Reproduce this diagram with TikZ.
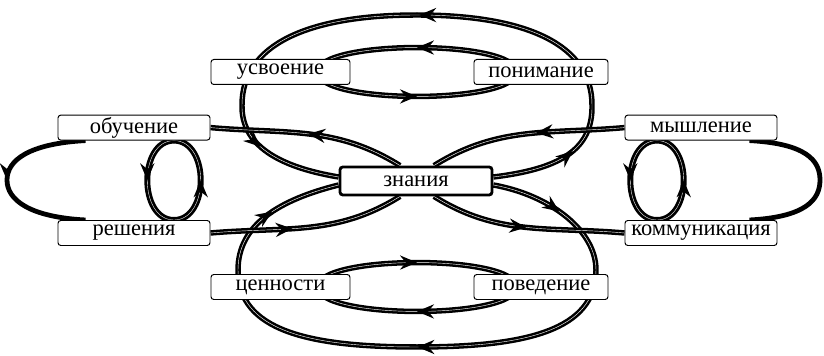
\documentclass[tikz,border=0pt]{standalone}
\usepackage{fontspec}
\setmainfont{Liberation Serif}
\usetikzlibrary{arrows.meta,decorations.markings,backgrounds}

\begin{document}
\begin{tikzpicture}[line width=0.8pt,>=Stealth,
  box/.style={draw,fill=white,rounded corners=2pt,line width=0.7pt,
    minimum height=0.625cm,inner sep=0pt,font=\fontsize{16}{18}\selectfont},
  flow/.style={line width=1.8pt,double=white,double distance=0.3pt},
  ring/.style={line width=2pt,double=white,double distance=0.25pt},
  wing/.style={line width=3.4pt},
  mk/.style={decoration={markings,mark=at position #1 with {\arrow{Stealth[length=12pt,width=10pt,inset=4pt]}}}}]
\useasboundingbox (0,0) rectangle (20.6,8.9);
% ================ 节点 ================
\node[box,minimum width=3.8cm,minimum height=0.7cm,line width=2pt] (zn) at (10.4,4.375) {знания};
\node[box,minimum width=3.475cm] (us) at (7.0125,7.1) {усвоение};
\node[box,minimum width=3.35cm] (pon) at (13.525,7.1) {понимание};
\node[box,minimum width=3.8cm] (ob) at (3.35,5.71) {обучение};
\node[box,minimum width=3.8cm] (ms) at (17.525,5.71) {мышление};
\node[box,minimum width=3.8cm] (re) at (3.35,3.075) {решения};
\node[box,minimum width=3.8cm] (km) at (17.525,3.075) {коммуникация};
\node[box,minimum width=3.475cm] (cen) at (7.0125,1.725) {ценности};
\node[box,minimum width=3.35cm] (pov) at (13.525,1.725) {поведение};
\begin{pgfonlayer}{background}
% ================ 上下大环 ================
\draw[flow,mk=0.12,mk=0.5,mk=0.88,postaction=decorate]
  ([yshift=0.1cm]zn.east) .. controls +(1.65,0.2) and +(0.025,-1.125) .. (14.8,6.275)
  .. controls +(0,1.5) and +(2.75,0) .. (10.425,8.525)
  .. controls +(-2.75,0) and +(0,1.5) .. (6.05,6.275)
  .. controls +(-0.025,-1) and +(-1.5,0.25) .. ([yshift=0.1cm]zn.west);
\draw[flow,mk=0.1,mk=0.5,mk=0.9,postaction=decorate]
  ([yshift=-0.1cm]zn.east) .. controls +(1.4,-0.25) and +(0,1) .. (14.9,2.15)
  .. controls +(0,-1.5) and +(2.75,0) .. (10.425,0.225)
  .. controls +(-2.75,0) and +(0,-1.5) .. (5.95,2.15)
  .. controls +(0,1.125) and +(-1.5,-0.375) .. ([yshift=-0.1cm]zn.west);
% 内小环（上、下）
\draw[flow,mk=0.5,postaction=decorate] ([xshift=1.075cm]pon.west) to[out=90,in=90,looseness=0.42] ([xshift=-0.825cm]us.east);
\draw[flow,mk=0.5,postaction=decorate] ([xshift=-0.825cm]us.east) to[out=-90,in=-90,looseness=0.42] ([xshift=1.075cm]pon.west);
\draw[flow,mk=0.5,postaction=decorate] ([xshift=-0.825cm]cen.east) to[out=90,in=90,looseness=0.42] ([xshift=1.075cm]pov.west);
\draw[flow,mk=0.5,postaction=decorate] ([xshift=1.075cm]pov.west) to[out=-90,in=-90,looseness=0.42] ([xshift=-0.825cm]cen.east);
% ================ 左右穿过中心 ================
\draw[flow,mk=0.5,postaction=decorate] ([xshift=-0.4cm]zn.north) to[out=148,in=-5] (ob.east);
\draw[flow,mk=0.42,postaction=decorate] (re.east) to[out=5,in=-148] ([xshift=-0.4cm]zn.south);
\draw[flow,mk=0.45,postaction=decorate] (ms.west) to[out=185,in=32] ([xshift=0.45cm]zn.north);
\draw[flow,mk=0.5,postaction=decorate] ([xshift=0.45cm]zn.south) to[out=-32,in=175] (km.west);
% 外侧弧
\draw[wing,mk=0.5,postaction=decorate] ([xshift=0.7cm]ob.south west)
  .. controls +(-1.4,-0.075) and +(0,0.5) .. (0.175,4.4)
  .. controls +(0,-0.5) and +(-1.4,0.075) .. ([xshift=0.7cm]re.north west);
\draw[wing] ([xshift=-0.7cm]km.north east)
  .. controls +(1.4,0.075) and +(0,-0.5) .. (20.5,4.4)
  .. controls +(0,0.5) and +(1.4,-0.075) .. ([xshift=-0.7cm]ms.south east);
% 小竖环
\draw[ring,mk=0.5,postaction=decorate] ([xshift=1cm]ob.south) to[out=180,in=180,looseness=1.15] ([xshift=1cm]re.north);
\draw[ring,mk=0.5,postaction=decorate] ([xshift=1cm]re.north) to[out=0,in=0,looseness=1.15] ([xshift=1cm]ob.south);
\draw[ring,mk=0.5,postaction=decorate] ([xshift=-1.1cm]ms.south) to[out=180,in=180,looseness=1.15] ([xshift=-1.1cm]km.north);
\draw[ring,mk=0.5,postaction=decorate] ([xshift=-1.1cm]km.north) to[out=0,in=0,looseness=1.15] ([xshift=-1.1cm]ms.south);
\end{pgfonlayer}
\end{tikzpicture}
\end{document}
